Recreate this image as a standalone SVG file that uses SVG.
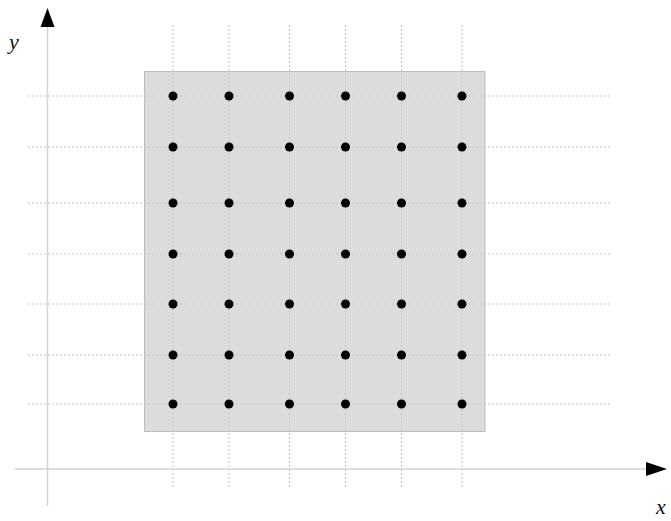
<svg xmlns="http://www.w3.org/2000/svg" width="671" height="521" viewBox="0 0 671 521">
<style>
.grid{stroke:#c4c4c4;stroke-width:1;stroke-dasharray:2,2;fill:none}
.axis{stroke:#d2d2d2;stroke-width:1.5;fill:none}
.dot{fill:#000}
.lbl{font-family:"Liberation Serif",serif;font-style:italic;font-size:22px;fill:#111}
</style>
<rect width="671" height="521" fill="#fff"/>
<g id="region">
<rect x="144.5" y="71.5" width="340.5" height="360" fill="#dcdcdc" stroke="#bdbdbd" stroke-width="1"/>
</g>
<g id="grid">
<path class="grid" d="M173,25V488M229,25V488M289.5,25V488M345.5,25V488M401.5,25V488M462,25V488"/>
<path class="grid" d="M28,96H612M28,147H612M28,203H612M28,254H612M28,304H612M28,355H612M28,404H612"/>
</g>
<g id="axes">
<path class="axis" d="M47.5,26V506"/>
<path class="axis" d="M15,469H648"/>
<polygon points="47.5,8 40.5,27 54.5,27" fill="#000"/>
<polygon points="667,469 646,462 646,476" fill="#000"/>
<text class="lbl" x="9" y="49">y</text>
<text class="lbl" x="656" y="514">x</text>
</g>
<g id="points">
<g id="row1"><circle class="dot" cx="173" cy="96" r="4.5"/><circle class="dot" cx="229" cy="96" r="4.5"/><circle class="dot" cx="289.5" cy="96" r="4.5"/><circle class="dot" cx="345.5" cy="96" r="4.5"/><circle class="dot" cx="401.5" cy="96" r="4.5"/><circle class="dot" cx="462" cy="96" r="4.5"/></g>
<g id="row2"><circle class="dot" cx="173" cy="147" r="4.5"/><circle class="dot" cx="229" cy="147" r="4.5"/><circle class="dot" cx="289.5" cy="147" r="4.5"/><circle class="dot" cx="345.5" cy="147" r="4.5"/><circle class="dot" cx="401.5" cy="147" r="4.5"/><circle class="dot" cx="462" cy="147" r="4.5"/></g>
<g id="row3"><circle class="dot" cx="173" cy="203" r="4.5"/><circle class="dot" cx="229" cy="203" r="4.5"/><circle class="dot" cx="289.5" cy="203" r="4.5"/><circle class="dot" cx="345.5" cy="203" r="4.5"/><circle class="dot" cx="401.5" cy="203" r="4.5"/><circle class="dot" cx="462" cy="203" r="4.5"/></g>
<g id="row4"><circle class="dot" cx="173" cy="254" r="4.5"/><circle class="dot" cx="229" cy="254" r="4.5"/><circle class="dot" cx="289.5" cy="254" r="4.5"/><circle class="dot" cx="345.5" cy="254" r="4.5"/><circle class="dot" cx="401.5" cy="254" r="4.5"/><circle class="dot" cx="462" cy="254" r="4.5"/></g>
<g id="row5"><circle class="dot" cx="173" cy="304" r="4.5"/><circle class="dot" cx="229" cy="304" r="4.5"/><circle class="dot" cx="289.5" cy="304" r="4.5"/><circle class="dot" cx="345.5" cy="304" r="4.5"/><circle class="dot" cx="401.5" cy="304" r="4.5"/><circle class="dot" cx="462" cy="304" r="4.5"/></g>
<g id="row6"><circle class="dot" cx="173" cy="355" r="4.5"/><circle class="dot" cx="229" cy="355" r="4.5"/><circle class="dot" cx="289.5" cy="355" r="4.5"/><circle class="dot" cx="345.5" cy="355" r="4.5"/><circle class="dot" cx="401.5" cy="355" r="4.5"/><circle class="dot" cx="462" cy="355" r="4.5"/></g>
<g id="row7"><circle class="dot" cx="173" cy="404" r="4.5"/><circle class="dot" cx="229" cy="404" r="4.5"/><circle class="dot" cx="289.5" cy="404" r="4.5"/><circle class="dot" cx="345.5" cy="404" r="4.5"/><circle class="dot" cx="401.5" cy="404" r="4.5"/><circle class="dot" cx="462" cy="404" r="4.5"/></g>
</g>
</svg>
